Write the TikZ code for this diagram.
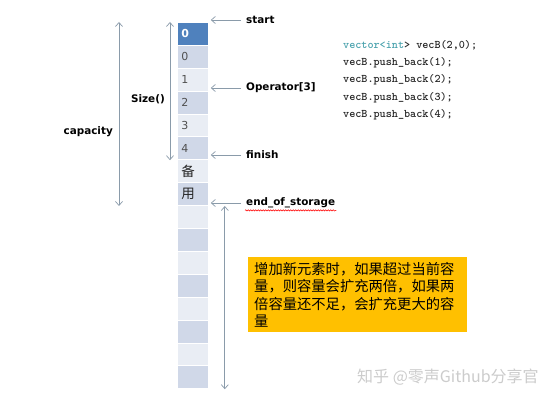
\documentclass[tikz,border=0pt]{standalone}
\usepackage{fontspec}
\usetikzlibrary{arrows.meta,decorations.pathmorphing}
\newfontfamily\cjk{Noto Sans CJK SC}
\newfontfamily\lab{DejaVu Sans}
\definecolor{hdr}{HTML}{4F81BD}
\definecolor{banddark}{HTML}{D0D8E8}
\definecolor{bandlight}{HTML}{E9EDF4}
\definecolor{arrowc}{HTML}{8A9BAA}
\definecolor{boxc}{HTML}{FFC000}
\definecolor{kwc}{HTML}{4BA3AE}
\definecolor{numc}{HTML}{505050}
\begin{document}
\begin{tikzpicture}[x=1pt,y=-1pt,
  cellbox/.style={draw=white, line width=0.8pt, minimum width=31pt, minimum height=22.9pt,
    inner xsep=4pt, inner ysep=0pt, text width=23pt, align=left, anchor=north west,
    font=\lab\fontsize{11}{12}\selectfont, text=numc},
  lbl/.style={inner sep=1pt, font=\lab\bfseries\fontsize{10.4}{12}\selectfont, text=black},
  ptr/.style={draw=arrowc, line width=0.7pt, -{Straight Barb[length=4pt,width=7pt]}},
  dptr/.style={draw=arrowc, line width=0.7pt, {Straight Barb[length=4pt,width=7pt]}-{Straight Barb[length=4pt,width=7pt]}},
  codetxt/.style={inner sep=0pt, anchor=base west, font=\ttfamily\bfseries\fontsize{11.6}{13}\selectfont, text=black!85},
  notebox/.style={fill=boxc, minimum width=219pt, minimum height=75pt, inner xsep=6pt, inner ysep=2pt,
    text width=207pt, align=left, font=\cjk\fontsize{14.3}{17.5}\selectfont},
]
\useasboundingbox (0,0) rectangle (558,403);
\fill[white] (0,0) rectangle (558,403);

% cells
\node[cellbox, fill=hdr, text=white, font=\lab\bfseries\fontsize{11}{12}\selectfont] (c0) at (177,22) {0};
\foreach \i/\t in {1/0,2/1,3/2,4/3,5/4}{
  \pgfmathparse{mod(\i,2)==1?"banddark":"bandlight"}
  \edef\cc{\pgfmathresult}
  \node[cellbox, fill=\cc] (c\i) at (177,{22+\i*22.9}) {\t};
}
\node[cellbox, fill=bandlight, font=\cjk\fontsize{13.5}{14}\selectfont, text=black!85] (c6) at (177,{22+6*22.9}) {备};
\node[cellbox, fill=banddark, font=\cjk\fontsize{13.5}{14}\selectfont, text=black!85] (c7) at (177,{22+7*22.9}) {用};
\foreach \i in {8,...,15}{
  \pgfmathparse{mod(\i,2)==1?"banddark":"bandlight"}
  \edef\cc{\pgfmathresult}
  \node[cellbox, fill=\cc] (c\i) at (177,{22+\i*22.9}) {};
}

% labels on the right
\node[lbl, anchor=west] (lstart) at (245,20) {start};
\node[lbl, anchor=west] (lop) at (245,88) {Operator[3]};
\node[lbl, anchor=west] (lfin) at (245,155) {finish};
\node[lbl, anchor=west] (leos) at (245,203) {end\_of\_storage};

\draw[ptr] ([xshift=-4pt]lstart.west) -- ([xshift=2pt]lstart.west -| c0.east);
\draw[ptr] ([xshift=-4pt]lop.west) -- ([xshift=2pt]lop.west -| c0.east);
\draw[ptr] ([xshift=-4pt]lfin.west) -- ([xshift=2pt]lfin.west -| c0.east);
\draw[ptr] ([xshift=-4pt]leos.west) -- ([xshift=2pt]leos.west -| c0.east);
\draw[red, line width=0.5pt, decorate, decoration={snake, amplitude=0.7pt, segment length=2.5pt}]
  ([yshift=-1pt]leos.south west) -- ([yshift=-1pt]leos.south east);

% left dimension arrows
\draw[dptr] ([xshift=-58pt]c0.north west) -- ([xshift=-58pt]c7.south west);
\node[lbl, anchor=east] (lcap) at (114,132) {capacity};
\draw[dptr] ([xshift=-7pt]c0.north west) -- ([xshift=-7pt]c5.south west);
\node[lbl, anchor=east] (lsize) at (166,99) {Size()};

% growth arrow
\draw[dptr] ([xshift=16pt]c7.south east) -- ([xshift=16pt]c15.south east);

% code
\node[codetxt] (code1) at (343,49) {\textcolor{kwc}{vector<int}> vecB(2,0);};
\node[codetxt] (code2) at (343,66) {vecB.push\_back(1);};
\node[codetxt] (code3) at (343,83) {vecB.push\_back(2);};
\node[codetxt] (code4) at (343,100.5) {vecB.push\_back(3);};
\node[codetxt] (code5) at (343,117.5) {vecB.push\_back(4);};

% note box
\node[notebox, anchor=north west] (note) at (248,257) {增加新元素时，如果超过当前容\\量，则容量会扩充两倍，如果两\\倍容量还不足，会扩充更大的容\\量};

% watermark
\node[anchor=base west, inner sep=0pt, text=black!20, font=\cjk\fontsize{16}{16}\selectfont] (wm) at (357,383) {知乎 @零声Github分享官};
\end{tikzpicture}
\end{document}
